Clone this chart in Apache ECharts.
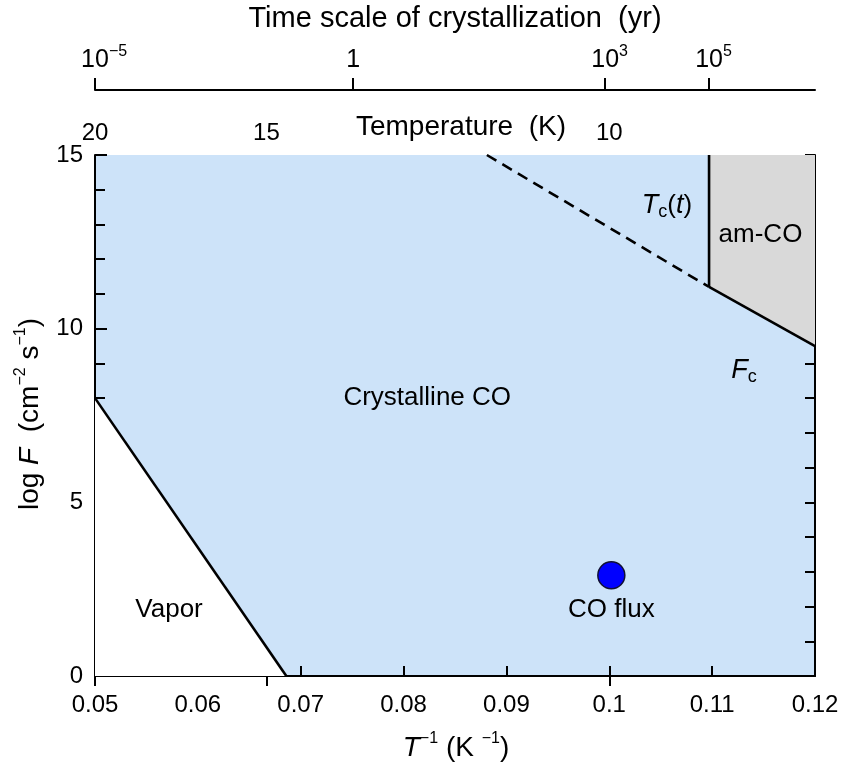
<!DOCTYPE html>
<html>
<head>
<meta charset="utf-8">
<script src="https://cdn.jsdelivr.net/npm/echarts@6/dist/echarts.min.js"></script>
<style>html,body{margin:0;padding:0;background:#fff;}#c{width:845px;height:775px;}</style>
</head>
<body>
<div id="c"></div>
<script>
// ---- data ----
const xTickValues = [0.05, 0.06, 0.07, 0.08, 0.09, 0.1, 0.11, 0.12];
const xTickLabels = ['0.05', '0.06', '0.07', '0.08', '0.09', '0.1', '0.11', '0.12'];
const tempTicks = [20, 15, 10];                       // K, placed at 1/T
const timeTickPositions = [0.05, 0.0751, 0.0996, 0.1097]; // on the 1/T axis
const timeTickLabels = ['{sp|−5}{n|10}{s|−5}', '{n|1}', '{sp|3}{n|10}{s|3}', '{sp|5}{n|10}{s|5}'];
const vaporRegion = [[0.05, 8], [0.05, 0], [0.0686, 0]];
const amRegion = [[0.1097, 15], [0.12, 15], [0.12, 9.5], [0.1097, 11.2]];
const vaporLine = [[0.05, 8], [0.0686, 0]];
const fcLine = [[0.1097, 11.2], [0.12, 9.5]];
const tcLine = [[0.1097, 11.2], [0.1097, 15]];
const tcDashed = [[0.0881, 15], [0.1097, 11.2]];
const coFlux = [[0.1002, 2.9]];
const annotations = [
  {name: 'Crystalline CO', pos: [0.0823, 8.0], text: '{L|Crystalline CO}'},
  {name: 'Vapor', pos: [0.0572, 1.9], text: '{L|Vapor}'},
  {name: 'CO flux', pos: [0.1002, 1.9], text: '{L|CO flux}'},
  {name: 'am-CO', pos: [0.1147, 12.7], text: '{L|am-CO}'},
  {name: 'Tc', pos: [0.1056, 13.55], text: '{Li|T}{sub|c}{L|(}{Li|t}{L|)}'},
  {name: 'Fc', pos: [0.1131, 8.8], text: '{Li|F}{sub|c}'}
];

const FONT = 'Liberation Sans, Arial, Helvetica, sans-serif';
const tempPositions = tempTicks.map(t => 1 / t);
function nearestIndex(arr, v) {
  let best = 0, bd = Infinity;
  arr.forEach((a, i) => { const d = Math.abs(a - v); if (d < bd) { bd = d; best = i; } });
  return best;
}
const richBase = {
  n: {fontSize: 25, fontFamily: FONT, color: '#000', lineHeight: 32},
  i: {fontSize: 25, fontFamily: FONT, color: '#000', fontStyle: 'italic', lineHeight: 32},
  t: {fontSize: 28, fontFamily: FONT, color: '#000', lineHeight: 34},
  ti: {fontSize: 28, fontFamily: FONT, color: '#000', fontStyle: 'italic', lineHeight: 34},
  s: {fontSize: 16, fontFamily: FONT, color: '#000', verticalAlign: 'top', lineHeight: 32},
  sp: {fontSize: 16, fontFamily: FONT, color: 'rgba(0,0,0,0)', verticalAlign: 'top', lineHeight: 32},
  L: {fontSize: 26, fontFamily: FONT, color: '#000', lineHeight: 32},
  Li: {fontSize: 27, fontFamily: FONT, color: '#000', fontStyle: 'italic', lineHeight: 32},
  sub: {fontSize: 18, fontFamily: FONT, color: '#000', verticalAlign: 'bottom', lineHeight: 24}
};
const axisLineStyle = {color: '#000', width: 2};

const chart = echarts.init(document.getElementById('c'), null, {renderer: 'canvas'});
function polygonSeries(points, fill) {
  return {
    type: 'custom', xAxisIndex: 0, yAxisIndex: 0, silent: true, clip: true, z: 1,
    data: [0],
    renderItem: function (params, api) {
      return {type: 'polygon', shape: {points: points.map(p => api.coord(p))},
        style: {fill: fill, stroke: null}};
    }
  };
}
function lineSeries(data, dashed) {
  return {
    type: 'line', xAxisIndex: 0, yAxisIndex: 0, data: data, symbol: 'none', silent: true, z: 3,
    lineStyle: {color: '#000', width: 2.6, type: dashed ? [11, 7] : 'solid'}
  };
}
const option = {
  animation: false,
  backgroundColor: '#fff',
  grid: [
    {left: 95, right: 30, top: 155, bottom: 99, show: true, backgroundColor: '#cde3f9', borderWidth: 0},
    {left: 95, right: 30, top: 89, height: 1, show: false}
  ],
  xAxis: [
    {
      gridIndex: 0, type: 'value', min: 0.05, max: 0.12, interval: 0.01, position: 'bottom',
      axisLine: {show: true, lineStyle: axisLineStyle},
      axisTick: {show: true, inside: true, length: 10, lineStyle: {color: '#000', width: 2}},
      axisLabel: {fontSize: 24, fontFamily: FONT, color: '#000', margin: 17, showMaxLabel: true, showMinLabel: true,
        formatter: v => xTickLabels[nearestIndex(xTickValues, v)]},
      splitLine: {show: false}
    },
    {
      gridIndex: 0, type: 'value', min: 0.05, max: 0.12, position: 'top',
      axisLine: {show: true, lineStyle: axisLineStyle},
      axisTick: {show: true, inside: true, length: 10, customValues: tempPositions, lineStyle: {color: '#000', width: 2}},
      axisLabel: {fontSize: 24, fontFamily: FONT, color: '#000', margin: 10, customValues: tempPositions,
        formatter: v => String(tempTicks[nearestIndex(tempPositions, v)])},
      splitLine: {show: false}
    },
    {
      gridIndex: 1, type: 'value', min: 0.05, max: 0.12, position: 'top',
      axisLine: {show: true, lineStyle: axisLineStyle},
      axisTick: {show: true, inside: false, length: 12, customValues: timeTickPositions, lineStyle: {color: '#000', width: 2}},
      axisLabel: {margin: 13, customValues: timeTickPositions, rich: richBase,
        formatter: v => timeTickLabels[nearestIndex(timeTickPositions, v)]},
      splitLine: {show: false}
    }
  ],
  yAxis: [
    {
      gridIndex: 0, type: 'value', min: 0, max: 15, interval: 5, position: 'left',
      axisLine: {show: true, lineStyle: axisLineStyle},
      axisTick: {show: true, inside: true, length: 12, lineStyle: {color: '#000', width: 2}},
      minorTick: {show: true, splitNumber: 5, length: 10, lineStyle: {color: '#000', width: 2}},
      axisLabel: {fontSize: 24, fontFamily: FONT, color: '#000', margin: 12},
      splitLine: {show: false}, minorSplitLine: {show: false}
    },
    {
      gridIndex: 0, type: 'value', min: 0, max: 15, interval: 1, position: 'right',
      axisLine: {show: true, lineStyle: axisLineStyle},
      axisTick: {show: true, inside: true, length: 10, lineStyle: {color: '#000', width: 2}},
      axisLabel: {show: false}, splitLine: {show: false}
    },
    {gridIndex: 1, type: 'value', show: false, min: 0, max: 1}
  ],
  graphic: [
    {type: 'text', x: 455, y: 19, style: {text: 'Time scale of crystallization  (yr)', font: '29px ' + FONT, fill: '#000', align: 'center', verticalAlign: 'middle'}},
    {type: 'text', x: 461, y: 127, style: {text: 'Temperature  (K)', font: '28px ' + FONT, fill: '#000', align: 'center', verticalAlign: 'middle'}},
    {type: 'text', x: 30, y: 414, rotation: Math.PI / 2,
      style: {text: '{t|log }{ti|F}{t|  (cm}{s|−2}{t| s}{s|−1}{t|)}', rich: richBase, align: 'center', verticalAlign: 'middle'}},
    {type: 'text', x: 456, y: 748,
      style: {text: '{ti|T}{s|−1}{t| (K }{s|−1}{t|)}', rich: richBase, align: 'center', verticalAlign: 'middle'}}
  ],
  series: [
    polygonSeries(vaporRegion, '#ffffff'),
    polygonSeries(amRegion, '#d9d9d9'),
    lineSeries(vaporLine, false),
    lineSeries(fcLine, false),
    lineSeries(tcLine, false),
    lineSeries(tcDashed, true),
    {
      type: 'scatter', xAxisIndex: 0, yAxisIndex: 0, data: coFlux, symbolSize: 27, z: 4,
      itemStyle: {color: '#0000ff', borderColor: '#111133', borderWidth: 1.5, opacity: 1}
    },
    {
      type: 'scatter', xAxisIndex: 0, yAxisIndex: 0, symbolSize: 0, z: 5, silent: true,
      itemStyle: {opacity: 1},
      data: annotations.map(a => ({value: a.pos, name: a.name,
        label: {show: true, position: 'inside', color: '#000', formatter: a.text, rich: richBase}}))
    }
  ]
};
chart.setOption(option);
</script>
</body>
</html>
